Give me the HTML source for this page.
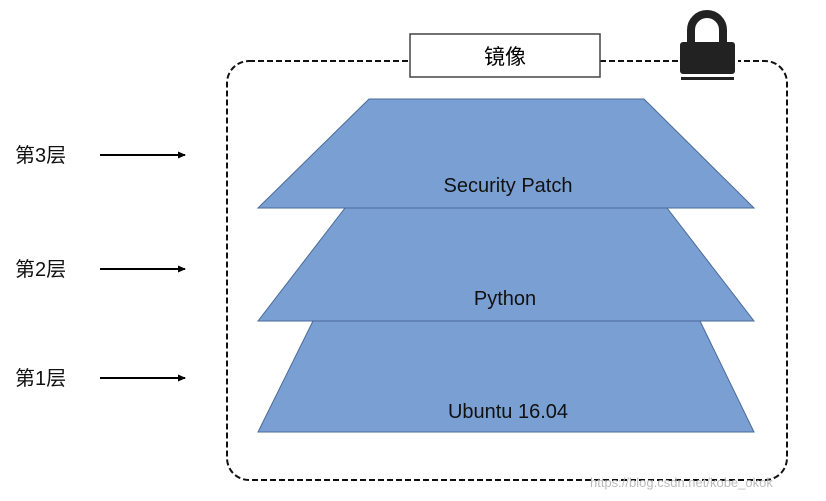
<!DOCTYPE html>
<html><head><meta charset="utf-8"><style>
body{margin:0;background:#fff;width:826px;height:496px;overflow:hidden}
</style></head><body>
<svg width="826" height="496" viewBox="0 0 826 496" xmlns="http://www.w3.org/2000/svg" font-family="'Liberation Sans','Noto Sans CJK SC',sans-serif">
<defs><marker id="a" markerWidth="8" markerHeight="8" refX="7" refY="4" orient="auto" markerUnits="userSpaceOnUse"><path d="M0,0.5 L8,4 L0,7.5z" fill="#000"/></marker></defs>
<rect x="227" y="61" width="560" height="419" rx="22" fill="none" stroke="#111" stroke-width="2" stroke-dasharray="6,3"/>
<rect x="410" y="34" width="190" height="43" fill="#fff" stroke="#444" stroke-width="1.5"/>
<text x="505" y="64" font-size="21" text-anchor="middle">镜像</text>
<rect x="678" y="60" width="60" height="20" fill="#fff"/>
<path d="M691,44 V30 a16,16 0 0 1 32,0 V44" fill="none" stroke="#222" stroke-width="8"/>
<rect x="680" y="42" width="55" height="32" rx="3" fill="#222"/>
<rect x="681" y="77" width="53" height="3" fill="#222"/>
<polygon points="313,321 700,321 754,432 258,432" fill="#7a9fd3" stroke="#4a6a9a" stroke-width="1"/>
<polygon points="345,208 667,208 754,321 258,321" fill="#7a9fd3" stroke="#4a6a9a" stroke-width="1"/>
<polygon points="369,99 644,99 754,208 258,208" fill="#7a9fd3" stroke="#4a6a9a" stroke-width="1"/>
<g font-size="20" text-anchor="middle" fill="#111">
<text x="508" y="192">Security Patch</text>
<text x="505" y="305">Python</text>
<text x="508" y="418">Ubuntu 16.04</text>
</g>
<g font-size="20" fill="#111">
<text x="15" y="162">第3层</text>
<text x="15" y="276">第2层</text>
<text x="15" y="385">第1层</text>
</g>
<g stroke="#000" stroke-width="2" marker-end="url(#a)">
<line x1="100" y1="155" x2="185" y2="155"/>
<line x1="100" y1="269" x2="185" y2="269"/>
<line x1="100" y1="378" x2="185" y2="378"/>
</g>
<text x="590" y="487" font-size="13" fill="#bbb">https://blog.csdn.net/kobe_okok</text>
</svg>
</body></html>
